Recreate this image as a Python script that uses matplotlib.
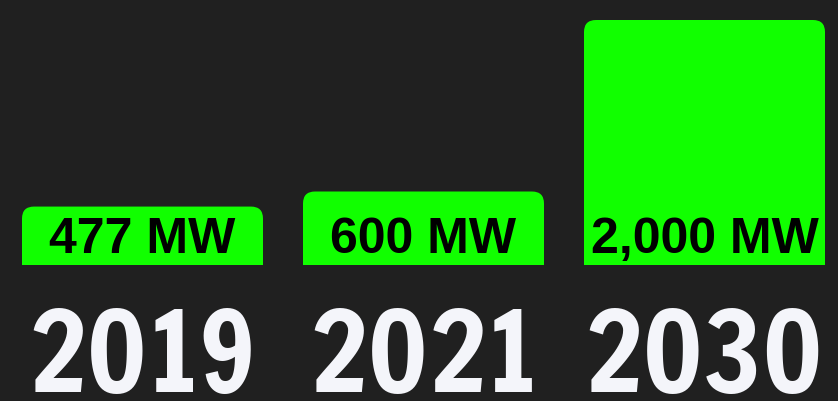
import matplotlib
matplotlib.use("Agg")
import matplotlib.pyplot as plt
from matplotlib import font_manager
from matplotlib.patches import FancyBboxPatch
from matplotlib.transforms import IdentityTransform, blended_transform_factory

years = ["2019", "2021", "2030"]
capacity_mw = [477, 600, 2000]
labels = ["477 MW", "600 MW", "2,000 MW"]

BG = "#202020"
GREEN = "#11ff00"

names = {f.name for f in font_manager.fontManager.ttflist}
year_font = [f for f in ["Francois One", "Roboto Condensed"] if f in names] + ["DejaVu Sans"]

fig = plt.figure(figsize=(8.38, 4.01), dpi=100, facecolor=BG)
ax = fig.add_axes([0, 136 / 401, 1, 245 / 401])
ax.set_facecolor(BG)
ax.set_xlim(-142.5 / 281, 2 + 133.5 / 281)
ax.set_ylim(0, 2000)
ax.axis("off")

x = range(len(years))
bars = ax.bar(x, capacity_mw, width=241 / 281, color=GREEN)

# swap plain rectangles for ones with rounded top corners
fig.canvas.draw()
ax_box = ax.get_window_extent()
for b in bars:
    bb = b.get_window_extent()
    b.set_visible(False)
    p = FancyBboxPatch((bb.x0, bb.y0 - 30), bb.width, bb.height + 30,
                       boxstyle="round,pad=0,rounding_size=12",
                       transform=IdentityTransform(), facecolor=GREEN,
                       edgecolor="none")
    p.set_clip_box(ax_box)
    ax.add_artist(p)

for xi, lab in zip(x, labels):
    ax.text(xi, 12 * 2000 / 245, lab, ha="center", va="baseline",
            fontsize=36, fontweight="bold", family="Liberation Sans",
            color="black")

tr = blended_transform_factory(ax.transData, fig.transFigure)
for xi, yr in zip(x, years):
    fig.text(xi, 9 / 401, yr, transform=tr, ha="center", va="baseline",
             fontsize=80, fontweight="bold", family=year_font,
             color="#f4f5fa")

fig.savefig("out.png", dpi=100, facecolor=BG)
